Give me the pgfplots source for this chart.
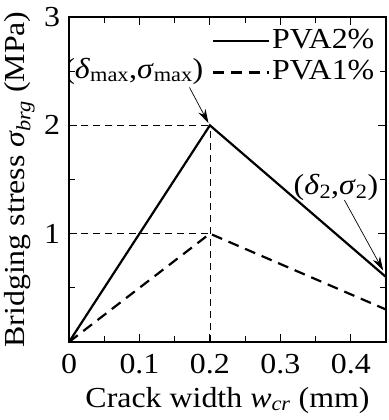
\documentclass[border=0pt]{standalone}
\usepackage{fontspec}
\setmainfont{Liberation Serif}[FakeStretch=1.1]
\usepackage{pgfplots}
\pgfplotsset{compat=1.18}
\usetikzlibrary{arrows.meta}
\newcommand{\bigf}{\fontsize{29}{33}\selectfont}
\begin{document}
\bigf
\begin{tikzpicture}
\begin{axis}[
  name=ax,
  scale only axis, width=317pt, height=325pt,
  xmin=0, xmax=0.45, ymin=0, ymax=3,
  xtick={0,0.1,0.2,0.3,0.4}, xticklabels={0,0.1,0.2,0.3,0.4},
  ytick={1,2,3}, yticklabels={1,2,3},
  minor xtick={0.05,0.15,0.25,0.35},
  minor ytick={0.5,1.5,2.5},
  tick align=inside, major tick length=8pt, minor tick length=6pt,
  tick style={black, line width=0.9pt},
  axis line style={line width=1.1pt},
  ticklabel style={font=\bigf},
  xticklabel style={yshift=-2pt},
  yticklabel style={xshift=1pt},
  label style={font=\bigf},
  /pgf/number format/assume math mode=true,
  xlabel={Crack width {\itshape w}\textsubscript{\itshape cr} (mm)},
  ylabel={Bridging stress {\itshape σ}\textsubscript{\itshape brg} (MPa)},
  xlabel style={yshift=6pt},
  ylabel style={yshift=-10pt},
  legend style={draw=none, fill=none, at={(0.97,0.97)}, anchor=north east,
    font=\bigf, row sep=4pt, inner sep=0pt},
  legend cell align=left,
  legend image code/.code={\draw[#1] (0pt,0pt) -- (56pt,0pt);},
]
\addplot[black, line width=2.2pt] coordinates {(0,0) (0.2,2) (0.45,0.6)};
\addlegendentry{PVA2\%}
\addplot[black, line width=2.2pt, dash pattern=on 11pt off 7pt] coordinates {(0,0) (0.2,1) (0.45,0.3)};
\addlegendentry{PVA1\%}
\addplot[black, line width=0.6pt, dash pattern=on 7pt off 5pt, forget plot] coordinates {(0,2) (0.2,2)};
\addplot[black, line width=0.6pt, dash pattern=on 7pt off 5pt, forget plot] coordinates {(0,1) (0.2,1)};
\addplot[black, line width=0.6pt, dash pattern=on 7pt off 5pt, forget plot] coordinates {(0.2,0) (0.2,2)};
\node[inner sep=0pt] at (axis cs:0.092,2.5) {(\textit{δ}\textsubscript{max},\textit{σ}\textsubscript{max})};
\node[inner sep=0pt] at (axis cs:0.379,1.43) {(\textit{δ}\textsubscript{2},\textit{σ}\textsubscript{2})};
\draw[-{Stealth[length=14pt,width=8pt]}, line width=0.7pt] (axis cs:0.171,2.35) -- (axis cs:0.198,2.02);
\draw[-{Stealth[length=14pt,width=8pt]}, line width=0.7pt] (axis cs:0.391,1.31) -- (axis cs:0.446,0.66);
\end{axis}
\pgfresetboundingbox
\path (ax.south west) ++(-69pt,-78pt) rectangle ++(388pt,420pt);
\end{tikzpicture}
\end{document}
